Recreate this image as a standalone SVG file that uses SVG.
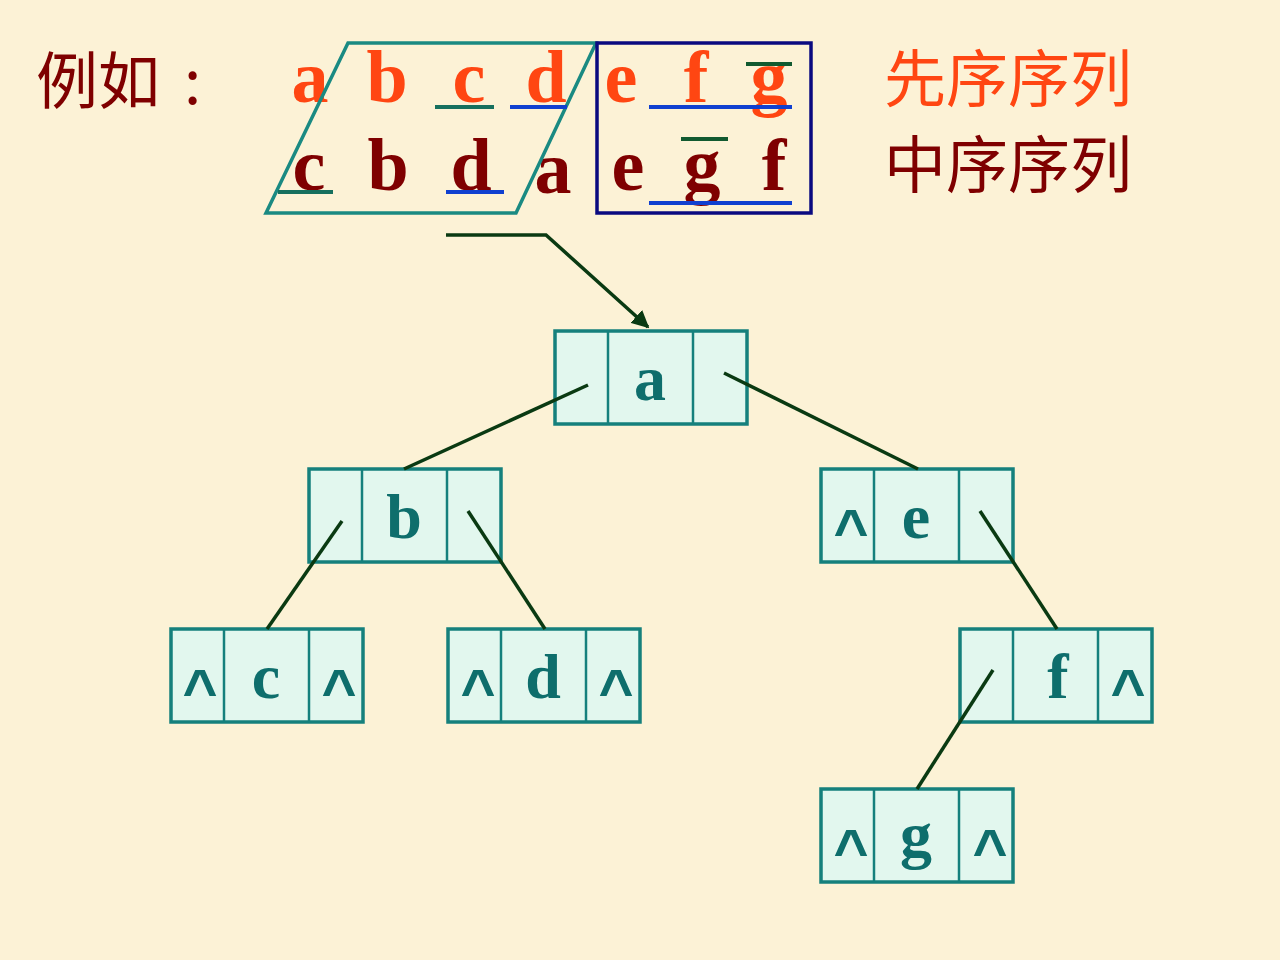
<svg xmlns="http://www.w3.org/2000/svg" width="1280" height="960" viewBox="0 0 1280 960">
<style>
.bg{fill:#fcf2d6}
.cell{fill:#e2f7ee;stroke:#15807c;stroke-width:3.5}
.div{stroke:#15807c;stroke-width:2.5}
.lt{font-family:"Liberation Serif",serif;font-weight:bold;font-size:64px;fill:#0e6e6c;text-anchor:middle}
.cr{font-family:"Liberation Sans",Arial,sans-serif;font-weight:bold;font-size:60px;fill:#0e6e6c;text-anchor:middle}
.seq{font-family:"Liberation Serif",serif;font-weight:bold;font-size:74px;text-anchor:middle}
.or{fill:#ff4612}
.dr{fill:#7f0000}
.cjk{font-family:"Noto Sans CJK SC",sans-serif;font-size:62px}
.con{stroke:#0a3a12;stroke-width:3.5;fill:none}
</style>
<defs>
<marker id="ah" viewBox="0 0 10 10" refX="9" refY="5" markerWidth="5" markerHeight="5" orient="auto" markerUnits="strokeWidth">
<path d="M0,0 L10,5 L0,10 z" fill="#0a3a12"/>
</marker>
</defs>
<rect class="bg" x="0" y="0" width="1280" height="960"/>

<g id="heading">
<text class="cjk dr" x="36" y="104" font-size="64">例如<tspan x="184">:</tspan></text>
<text class="cjk or" x="884" y="102">先序序列</text>
<text class="cjk dr" x="884" y="188">中序序列</text>
</g>

<g id="sequences">
<text class="seq or" x="310" y="102">a</text>
<text class="seq or" x="387" y="102">b</text>
<text class="seq or" x="469" y="102">c</text>
<text class="seq or" x="546" y="102">d</text>
<text class="seq or" x="621" y="102">e</text>
<text class="seq or" x="696" y="102">f</text>
<text class="seq or" x="769" y="102">g</text>
<text class="seq dr" x="309" y="190">c</text>
<text class="seq dr" x="388" y="190">b</text>
<text class="seq dr" x="471" y="190">d</text>
<text class="seq dr" x="553" y="193">a</text>
<text class="seq dr" x="628" y="190">e</text>
<text class="seq dr" x="702" y="190">g</text>
<text class="seq dr" x="774" y="190">f</text>
<polygon points="348,43 596,43 516,213 266,213" fill="none" stroke="#1a8a82" stroke-width="3.5"/>
<rect x="597" y="43" width="214" height="170" fill="none" stroke="#0a0a80" stroke-width="3.5"/>
<g stroke-width="4">
<line x1="435" y1="107" x2="494" y2="107" stroke="#16705e"/>
<line x1="510" y1="107" x2="567" y2="107" stroke="#1040d0"/>
<line x1="649" y1="107" x2="792" y2="107" stroke="#1040d0"/>
<line x1="746" y1="64" x2="792" y2="64" stroke="#115a30"/>
<line x1="278" y1="192" x2="333" y2="192" stroke="#16705e"/>
<line x1="446" y1="192" x2="504" y2="192" stroke="#1040d0"/>
<line x1="681" y1="139" x2="728" y2="139" stroke="#115a30"/>
<line x1="649" y1="203" x2="792" y2="203" stroke="#1040d0"/>
</g>
</g>

<g id="node-a">
<rect class="cell" x="555" y="331" width="192" height="93"/>
<line class="div" x1="608" y1="331" x2="608" y2="424"/>
<line class="div" x1="693" y1="331" x2="693" y2="424"/>
<text class="lt" x="650" y="400">a</text>
</g>
<g id="node-b">
<rect class="cell" x="309" y="469" width="192" height="93"/>
<line class="div" x1="362" y1="469" x2="362" y2="562"/>
<line class="div" x1="447" y1="469" x2="447" y2="562"/>
<text class="lt" x="404" y="538">b</text>
</g>
<g id="node-e">
<rect class="cell" x="821" y="469" width="192" height="93"/>
<line class="div" x1="874" y1="469" x2="874" y2="562"/>
<line class="div" x1="959" y1="469" x2="959" y2="562"/>
<text class="lt" x="916" y="538">e</text>
<text class="cr" x="851" y="551">^</text>
</g>
<g id="node-c">
<rect class="cell" x="171" y="629" width="192" height="93"/>
<line class="div" x1="224" y1="629" x2="224" y2="722"/>
<line class="div" x1="309" y1="629" x2="309" y2="722"/>
<text class="lt" x="266" y="698">c</text>
<text class="cr" x="200" y="711">^</text>
<text class="cr" x="339" y="711">^</text>
</g>
<g id="node-d">
<rect class="cell" x="448" y="629" width="192" height="93"/>
<line class="div" x1="501" y1="629" x2="501" y2="722"/>
<line class="div" x1="586" y1="629" x2="586" y2="722"/>
<text class="lt" x="543" y="698">d</text>
<text class="cr" x="478" y="711">^</text>
<text class="cr" x="616" y="711">^</text>
</g>
<g id="node-f">
<rect class="cell" x="960" y="629" width="192" height="93"/>
<line class="div" x1="1013" y1="629" x2="1013" y2="722"/>
<line class="div" x1="1098" y1="629" x2="1098" y2="722"/>
<text class="lt" x="1058" y="698">f</text>
<text class="cr" x="1128" y="711">^</text>
</g>
<g id="node-g">
<rect class="cell" x="821" y="789" width="192" height="93"/>
<line class="div" x1="874" y1="789" x2="874" y2="882"/>
<line class="div" x1="959" y1="789" x2="959" y2="882"/>
<text class="lt" x="916" y="856">g</text>
<text class="cr" x="851" y="871">^</text>
<text class="cr" x="990" y="871">^</text>
</g>

<g id="connectors">
<polyline class="con" points="446,235 546,235 648,327" marker-end="url(#ah)"/>
<line class="con" x1="588" y1="385" x2="404" y2="469"/>
<line class="con" x1="724" y1="373" x2="918" y2="469"/>
<line class="con" x1="342" y1="521" x2="267" y2="629"/>
<line class="con" x1="468" y1="511" x2="545" y2="629"/>
<line class="con" x1="980" y1="511" x2="1057" y2="629"/>
<line class="con" x1="993" y1="670" x2="917" y2="789"/>
</g>
</svg>
